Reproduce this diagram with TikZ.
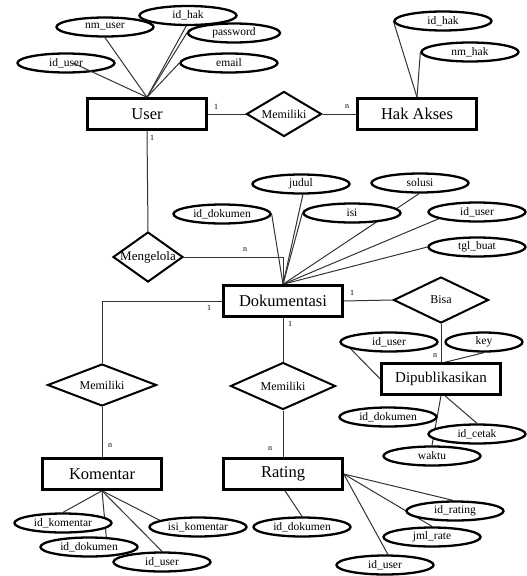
\documentclass[tikz,border=0pt]{standalone}
\usepackage{fontspec}
\setmainfont{Liberation Serif}
\usetikzlibrary{shapes.geometric}
\pgfdeclarelayer{background}
\pgfsetlayers{background,main}

\tikzset{
  entity/.style={draw, line width=2.5pt, fill=white, minimum width=119pt,
    minimum height=31pt, inner sep=0pt, font=\fontsize{16.5}{16.5}\selectfont},
  attr/.style={ellipse, draw, line width=2.3pt, fill=white, minimum width=97pt,
    minimum height=19pt, inner sep=0pt, font=\fontsize{11.5}{11.5}\selectfont},
  rel/.style={diamond, draw, line width=2pt, fill=white, inner sep=0pt},
  reltext/.style={font=\fontsize{12}{12}\selectfont, inner sep=0pt},
  card/.style={font=\fontsize{8}{8}\selectfont, inner sep=0pt},
  link/.style={line width=1pt, draw=black!80},
}

\begin{document}
\begin{tikzpicture}[x=1pt,y=-1pt]
\useasboundingbox (0,0) rectangle (527,576);

% ---------- entities ----------
\node[entity] (user) at (147,114) {User};
\node[entity] (hak)  at (417,114) {Hak Akses};
\node[entity] (dok)  at (283,301) {Dokumentasi};
\node[entity] (kom)  at (102,474) {Komentar};
\node[entity] (rating) at (283,474) {Rating};
\node[entity, font=\fontsize{15}{15}\selectfont] (dipub) at (441,379) {Dipublikasikan};

% ---------- relationships ----------
\node[rel, minimum width=75pt, minimum height=45pt,
  label={[reltext]center:Memiliki}] (mem1) at (284,114) {};
\node[rel, minimum width=70pt, minimum height=50pt,
  label={[reltext, font=\fontsize{13}{13}\selectfont]center:Mengelola}] (mgl) at (148,257) {};
\node[rel, minimum width=109pt, minimum height=42pt,
  label={[reltext]center:Memiliki}] (mem2) at (102,385) {};
\node[rel, minimum width=105pt, minimum height=47pt,
  label={[reltext]center:Memiliki}] (mem3) at (283,386) {};
\node[rel, minimum width=95pt, minimum height=46pt,
  label={[reltext]center:Bisa}] (bisa) at (441,300) {};

% ---------- attributes: User ----------
\node[attr] (nmuser)   at (105,27) {nm\_user};
\node[attr] (idhak1)   at (188,15.5) {id\_hak};
\node[attr, minimum width=92pt] (password) at (234,33) {password};
\node[attr] (iduser1)  at (66,63) {id\_user};
\node[attr] (email)    at (229,63) {email};

% ---------- attributes: Hak Akses ----------
\node[attr] (idhak2) at (443,21) {id\_hak};
\node[attr] (nmhak)  at (470,52) {nm\_hak};

% ---------- attributes: Dokumentasi ----------
\node[attr] (iddok1)  at (222,214) {id\_dokumen};
\node[attr] (judul)   at (301,184) {judul};
\node[attr] (solusi)  at (420,183) {solusi};
\node[attr] (isi)     at (352,213) {isi};
\node[attr] (iduser2) at (477,212) {id\_user};
\node[attr] (tglbuat) at (477,247) {tgl\_buat};

% ---------- attributes: Komentar ----------
\node[attr] (idkom)   at (63,523) {id\_komentar};
\node[attr] (iddok2)  at (89,547) {id\_dokumen};
\node[attr] (iduser3) at (162,562) {id\_user};
\node[attr] (isikom)  at (198,527) {isi\_komentar};

% ---------- attributes: Rating ----------
\node[attr] (iddok3)   at (302,527) {id\_dokumen};
\node[attr] (idrating) at (455,511) {id\_rating};
\node[attr] (jmlrate)  at (432,537) {jml\_rate};
\node[attr] (iduser4)  at (385,565) {id\_user};

% ---------- attributes: Dipublikasikan ----------
\node[attr] (iduser5) at (389,342) {id\_user};
\node[attr, minimum width=77pt] (key) at (484,342) {key};
\node[attr] (iddok4)  at (388,417) {id\_dokumen};
\node[attr] (idcetak) at (477,434) {id\_cetak};
\node[attr] (waktu)   at (432,456) {waktu};

% ---------- cardinalities ----------
\node[card] (c1) at (216,107) {1};
\node[card] (c2) at (347,107) {n};
\node[card] (c3) at (152,138) {1};
\node[card] (c4) at (245,250) {n};
\node[card] (c5) at (209,308) {1};
\node[card] (c6) at (110,446) {n};
\node[card] (c7) at (290,324) {1};
\node[card] (c8) at (270,449) {n};
\node[card] (c9) at (352,293) {1};
\node[card] (c10) at (435,356) {n};

% ---------- connectors ----------
\begin{pgfonlayer}{background}
  % relationships
  \draw[link] (user.east) -- (mem1.west);
  \draw[link] (mem1.east) -- (hak.west);
  \draw[link] (user.south) -- (mgl.north);
  \draw[link] (mgl.east) -| (dok.north);
  \draw[link] (dok.west) -| (mem2.north);
  \draw[link] (mem2.south) -- (kom.north);
  \draw[link] (dok.south) -- (mem3.north);
  \draw[link] (mem3.south) -- (rating.north);
  \draw[link] (dok.east) -- (bisa.west);
  \draw[link] (bisa.south) -- (dipub.north);

  % User attributes
  \draw[link] (user.north) -- (nmuser.south);
  \draw[link] (user.north) -- (idhak1.-100);
  \draw[link] (user.north) -- (password.west);
  \draw[link] (user.north) -- (email.west);

  % Hak Akses attributes
  \draw[link] (hak.north) -- (idhak2.west);
  \draw[link] (hak.north) -- (nmhak.west);

  % Dokumentasi attributes
  \draw[link] (dok.north) -- (iddok1.east);
  \draw[link] (dok.north) -- (judul.-80);
  \draw[link] (dok.north) -- (isi.west);
  \draw[link] (dok.north) -- (solusi.-95);
  \draw[link] (dok.north) -- (iduser2.190);
  \draw[link] (dok.north) -- (tglbuat.west);

  % Komentar attributes
  \draw[link] (kom.south) -- (idkom.north);
  \draw[link] (kom.south) -- (iddok2.30);
  \draw[link] (kom.south) -- (iduser3.north);
  \draw[link] (kom.south) -- (isikom.170);

  % Rating attributes
  \draw[link] ([xshift=2pt]rating.south) -- (iddok3.north);
  \draw[link] (rating.east) -- (idrating.100);
  \draw[link] (rating.east) -- (jmlrate.north);
  \draw[link] (rating.east) -- (iduser4.75);

  % Dipublikasikan attributes
  \draw[link] (dipub.west) -- (iduser5.190);
  \draw[link] ([xshift=4pt]dipub.north) -- (key.south);
  \draw[link] (dipub.south) -- (waktu.north);
  \draw[link] ([xshift=4pt]dipub.south) -- (idcetak.north);
\end{pgfonlayer}

% this link runs across the ellipse it ends in
\draw[link] (user.north) -- ([xshift=7pt]iduser1.center);
\end{tikzpicture}
\end{document}
